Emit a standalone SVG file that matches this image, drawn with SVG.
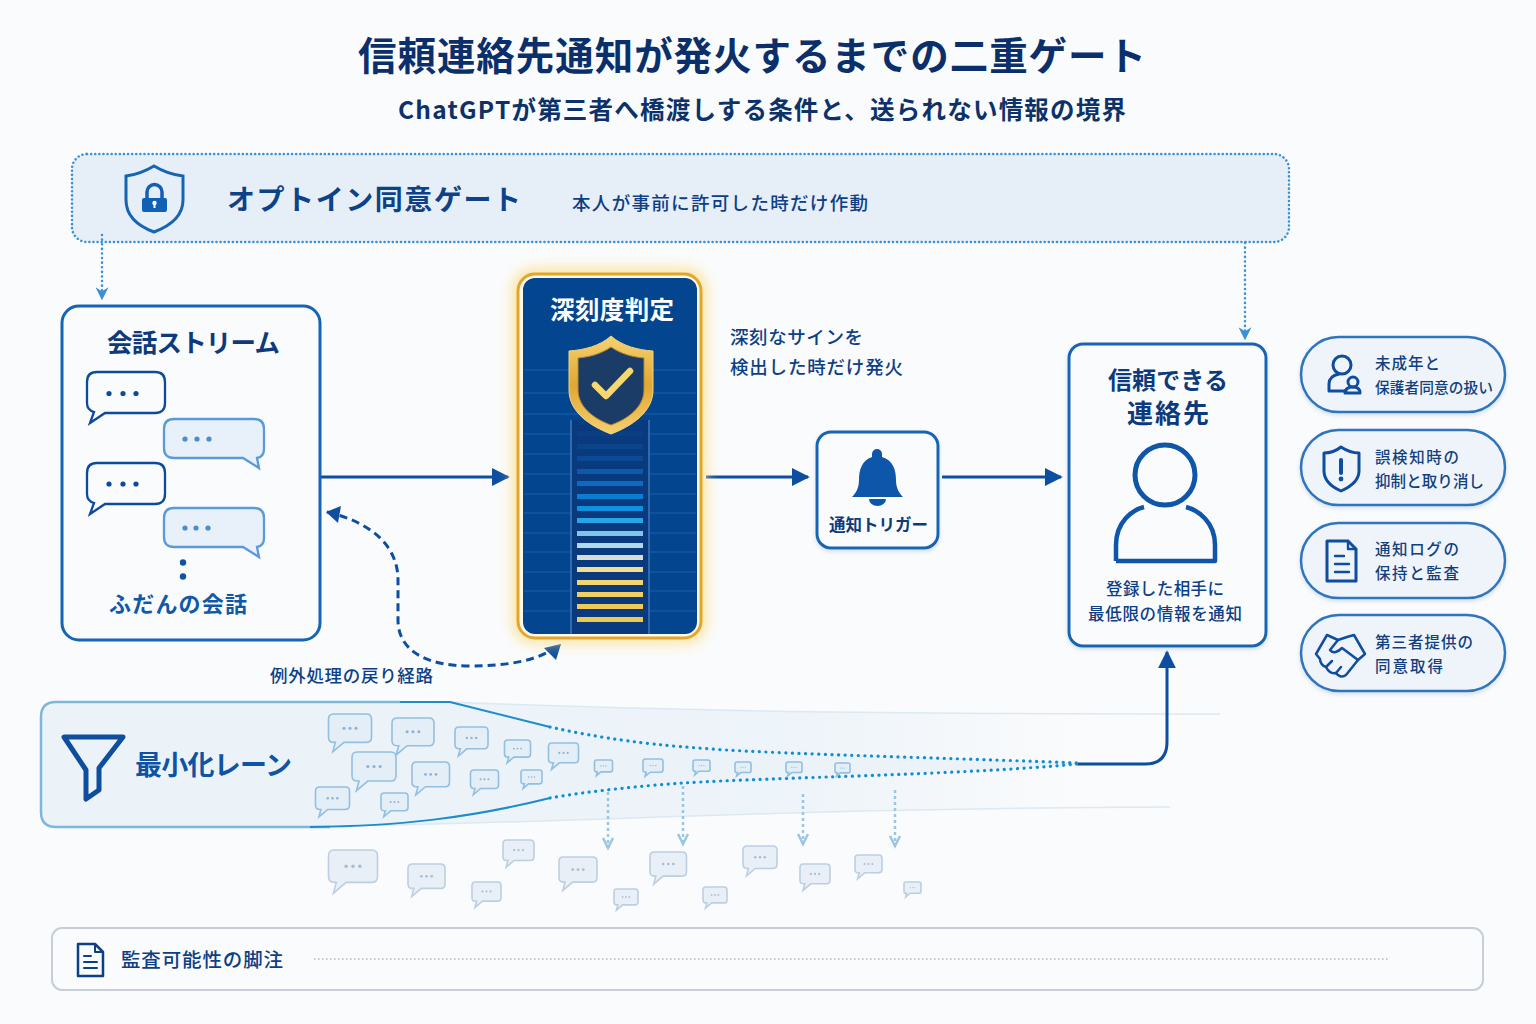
<svg xmlns="http://www.w3.org/2000/svg" xmlns:xlink="http://www.w3.org/1999/xlink" width="1536" height="1024" viewBox="0 0 1536 1024">
<style>
text{font-family:"Noto Sans CJK JP","Noto Sans",sans-serif;fill:#0d3f86;font-weight:500}
.t{font-weight:700;fill:#0c3a7c}
.card{fill:#fafbfd;stroke:#1565b4;stroke-width:3}
.pill{fill:#eff4fa;stroke:#2f74bd;stroke-width:2.5;filter:url(#soft)}
.pt{font-size:15.5px;fill:#123f80}
.ic{fill:none;stroke:#0f4d9e;stroke-width:3;stroke-linejoin:round;stroke-linecap:round}
.main{fill:none;stroke:#0d4ea0;stroke-width:3}
.dot{fill:none;stroke:#3b90d6;stroke-width:2.5;stroke-dasharray:.1 4.5;stroke-linecap:round}
.fun{fill:none;stroke:#0f8fd0;stroke-width:3.2;stroke-dasharray:.1 6.500;stroke-linecap:round}
.drop{fill:none;stroke:#9cc6e0;stroke-width:2.5;stroke-dasharray:3 3}
.chev{fill:none;stroke:#9cc6e0;stroke-width:2.5}
.bb{fill:#e3eef7;stroke:#94bfe0;--d:#8db2d6}
.bl{fill:#e9eff7;stroke:#bccfe2;--d:#a8bcd2}
.dd{fill:var(--d);stroke:none}
.bar{height:5px;x:577px;width:66px}
.grid{stroke:#1a5fae;stroke-width:1.2}
</style>
<defs>
<filter id="soft" x="-10%" y="-10%" width="120%" height="125%"><feDropShadow dx="0" dy="2" stdDeviation="2" flood-color="#9dbbdc" flood-opacity=".45"/></filter>
<filter id="glow" x="-20%" y="-20%" width="140%" height="140%"><feGaussianBlur stdDeviation="7"/></filter>
<linearGradient id="gold" x1="0" y1="0" x2="0" y2="1"><stop offset="0" stop-color="#f6d272"/><stop offset=".5" stop-color="#e0a732"/><stop offset="1" stop-color="#f5d070"/></linearGradient>
<linearGradient id="band" gradientUnits="userSpaceOnUse" x1="300" y1="0" x2="1220" y2="0"><stop offset="0" stop-color="#ebf3f9"/><stop offset=".55" stop-color="#eef4f9"/><stop offset=".85" stop-color="#fafbfc"/></linearGradient>
<marker id="ah" viewBox="0 0 10 10" refX="9" refY="5" markerWidth="6" markerHeight="6" orient="auto"><path d="M0,0L10,5L0,10Z" fill="#0d4ea0"/></marker>
<marker id="ad" viewBox="0 0 10 10" refX="9" refY="5" markerWidth="13" markerHeight="13" markerUnits="userSpaceOnUse" orient="auto"><path d="M0,0L10,5L0,10L3,5Z" fill="#3b90d6"/></marker>
<g id="b"><path vector-effect="non-scaling-stroke" stroke-width="1.600" d="M12,0H88Q100,0 100,12V54Q100,66 88,66H36L10,88L16,66H12Q0,66 0,54V12Q0,0 12,0Z"/><circle class="dd" cx="36" cy="33" r="3.600"/><circle class="dd" cx="50" cy="33" r="3.600"/><circle class="dd" cx="64" cy="33" r="3.600"/></g>
</defs>
<rect width="1536" height="1024" fill="#fafbfc"/>
<g id="title">
<text x="358" y="70" class="t" font-size="38.500" textLength="788" style="fill:#0b2f6b">信頼連絡先通知が発火するまでの二重ゲート</text>
<text x="398" y="119" font-size="24.500" textLength="728" style="fill:#0d3269;font-weight:700">ChatGPTが第三者へ橋渡しする条件と、送られない情報の境界</text>
</g>
<g id="gate">
<rect x="72" y="154" width="1217" height="88" rx="15" fill="#e6eef7" stroke="#3b90d6" stroke-width="2.500" stroke-dasharray=".1 4" stroke-linecap="round"/>
<path d="M154,166C164,172 174,175 183,176V200C183,216 170,226 154,232C138,226 126,216 126,200V176C135,175 144,172 154,166Z" fill="none" stroke="#1565b4" stroke-width="3"/>
<rect x="142" y="198" width="25" height="14" rx="2" fill="#1060b4"/>
<path d="M147,198V192a7.500,7.500 0 0 1 15,0V198" fill="none" stroke="#1060b4" stroke-width="3.500"/>
<circle cx="154.500" cy="203" r="2.200" fill="#fff"/><rect x="153.500" y="203" width="2" height="5" fill="#fff"/>
<text x="227" y="210" font-size="28" class="t" textLength="294" style="fill:#0d4288">オプトイン同意ゲート</text>
<text x="572" y="210" font-size="18.500" textLength="296">本人が事前に許可した時だけ作動</text>
</g>
<g id="lane">
<path d="M450,702C700,712 900,714 1220,714L1170,807C800,808 600,822 300,827Z" fill="url(#band)"/>
<path d="M450,702C700,712 900,714 1220,714M300,827C600,822 800,808 1170,807" fill="none" stroke="#dce9f3" stroke-width="1.500"/>
<path d="M56,702H450L550,727C650,746 900,757 1078,763V765C900,775 650,785 550,798C470,818 400,826 330,827H56Q41,827 41,812V717Q41,702 56,702Z" fill="#ebf3f9"/>
<path d="M330,827H56Q41,827 41,812V717Q41,702 56,702H400" fill="none" stroke="#7eb8d8" stroke-width="2.500"/>
<path d="M400,702H450L550,727M550,798C470,818 400,826 310,827" fill="none" stroke="#1c8ccc" stroke-width="2"/>
<path d="M64,737H123L99,768V790L86,799V770Z" fill="none" stroke="#0f4d9e" stroke-width="5" stroke-linejoin="round"/>
<text x="135" y="775" font-size="27" class="t" textLength="157" style="fill:#0f53a5">最小化レーン</text>
</g>
<g id="connectors">
<path class="dot" d="M102,235V299" marker-end="url(#ad)"/>
<path class="dot" d="M1245,243V339" marker-end="url(#ad)"/>
<path class="main" d="M320,477H508" marker-end="url(#ah)"/>
<path class="main" d="M706,477H808" marker-end="url(#ah)"/>
<path class="main" d="M942,477H1061" marker-end="url(#ah)"/>
<path d="M327,512C370,522 398,545 398,580V620C398,650 425,666 470,666C510,666 540,660 559,645" fill="none" stroke="#0d4ea0" stroke-width="3" stroke-dasharray="8 5"/>
<path d="M326,512L341,506L338,523Z" fill="#0d4ea0"/>
<path d="M561,644L544,648L556,660Z" fill="#0d4ea0"/>
<path class="fun" d="M550,727C600,738 650,746 744,751C850,756 980,759 1078,763"/>
<path class="fun" d="M550,798C590,791 640,786 683,783C780,777 960,775 1078,764"/>
<path class="main" d="M1078,764H1145Q1167,764 1167,742V652" marker-end="url(#ah)"/>
<path class="drop" d="M608,792V848"/><path class="chev" d="M603,838L608,848L613,838"/>
<path class="drop" d="M683,786V844"/><path class="chev" d="M678,834L683,844L688,834"/>
<path class="drop" d="M803,794V844"/><path class="chev" d="M798,834L803,844L808,834"/>
<path class="drop" d="M895,790V846"/><path class="chev" d="M890,836L895,846L900,836"/>
</g>
<g id="stream">
<rect class="card" x="62" y="306" width="258" height="334" rx="17"/>
<text x="107" y="352" class="t" font-size="25.500" textLength="173">会話ストリーム</text>
<g fill="#f9fbfd" stroke="#0d4a9c" stroke-width="2.300">
<path d="M97,372H155Q165,372 165,382V403Q165,413 155,413H105L90,423L94,412Q87,410 87,403V382Q87,372 97,372Z"/>
<path d="M97,463H155Q165,463 165,473V494Q165,504 155,504H105L90,514L94,503Q87,501 87,494V473Q87,463 97,463Z"/>
</g>
<g fill="#e8f0f9" stroke="#5a9ad8" stroke-width="2.300">
<path d="M174,419H254Q264,419 264,429V449Q264,457 257,458L259,468L243,458H174Q164,458 164,448V429Q164,419 174,419Z"/>
<path d="M174,508H254Q264,508 264,518V538Q264,546 257,547L259,557L243,547H174Q164,547 164,537V518Q164,508 174,508Z"/>
</g>
<g fill="#0d4a9c"><circle cx="109" cy="393.500" r="2.600"/><circle cx="123" cy="393.500" r="2.600"/><circle cx="136" cy="393.500" r="2.600"/><circle cx="109" cy="484" r="2.600"/><circle cx="123" cy="484" r="2.600"/><circle cx="136" cy="484" r="2.600"/></g>
<g fill="#4a8ccd"><circle cx="185" cy="439" r="2.600"/><circle cx="197" cy="439" r="2.600"/><circle cx="209" cy="439" r="2.600"/><circle cx="185" cy="528" r="2.600"/><circle cx="196" cy="528" r="2.600"/><circle cx="208" cy="528" r="2.600"/></g>
<circle cx="183" cy="562.500" r="3.200" fill="#0f53a5"/><circle cx="183" cy="576.500" r="3.200" fill="#0f53a5"/>
<text x="109" y="612" font-size="22" textLength="138" style="fill:#1058a8;font-weight:700">ふだんの会話</text>
</g>
<g id="severity">
<rect x="513" y="269" width="193" height="374" rx="20" fill="#fbdc80" opacity=".8" filter="url(#glow)"/>
<rect x="518" y="274" width="183" height="364" rx="17" fill="#fdf8ea" stroke="#e3a52c" stroke-width="3"/>
<rect x="523" y="278" width="174" height="356" rx="12" fill="#03458f"/>
<g class="grid"><path d="M524,370H696M524,393H696M524,414H696M524,434H696M524,454H696M524,474H696M524,494H696M524,513H696M524,533H696M524,552H696M524,572H696M524,591H696M524,611H696"/></g>
<rect x="572" y="420" width="77" height="214" fill="#0a3a7e"/>
<path d="M571,420V634M649,420V634" stroke="#3c79b8" stroke-width="1.500"/>
<rect class="bar" y="420" fill="#0a3c80"/><rect class="bar" y="431" fill="#0a3f84"/><rect class="bar" y="444" fill="#0b4488"/><rect class="bar" y="456" fill="#0b4a94"/>
<rect class="bar" y="469" fill="#0c5aa8"/><rect class="bar" y="481" fill="#0c6bc0"/><rect class="bar" y="494" fill="#0c7ed2"/><rect class="bar" y="506" fill="#1290e0"/><rect class="bar" y="518" fill="#2aa4e8"/><rect class="bar" y="531" fill="#82c4e8"/><rect class="bar" y="543" fill="#b0d8ea"/><rect class="bar" y="555" fill="#d8dcd8"/><rect class="bar" y="567" fill="#f4dc90"/><rect class="bar" y="580" fill="#f2d470"/><rect class="bar" y="592" fill="#f1cf60"/><rect class="bar" y="604" fill="#efca58"/><rect class="bar" y="617" fill="#efc850"/>
<text x="550" y="319" font-size="24.500" class="t" textLength="124" style="fill:#fff">深刻度判定</text>
<path d="M611,336C622,346 638,350 653,351V390C653,412 632,426 611,434C590,426 569,412 569,390V351C584,350 600,346 611,336Z" fill="url(#gold)" stroke="#f4d480"/>
<path d="M611,347C621,354 633,357 644,358V390C644,407 628,419 611,425C594,419 578,407 578,390V358C589,357 601,354 611,347Z" fill="#1c3c68" stroke="#b98a2c"/>
<path d="M595,385L606,396L630,371" fill="none" stroke="#f6d770" stroke-width="6.500" stroke-linecap="round" stroke-linejoin="round"/>
</g>
<g id="side-label">
<text x="730" y="344" font-size="18.500" textLength="133">深刻なサインを</text>
<text x="730" y="374" font-size="18.500" textLength="173">検出した時だけ発火</text>
<text x="270" y="682" font-size="17.500" textLength="163">例外処理の戻り経路</text>
</g>
<g id="trigger">
<rect class="card" x="817" y="432" width="121" height="116" rx="14" filter="url(#soft)"/>
<path d="M877,449a5,5 0 0 1 5,5V457C893,460 896,470 896,480C896,488 899,493 903,497H852C856,493 859,488 859,480C859,470 862,460 872,457V454a5,5 0 0 1 5,-5Z" fill="#0d56aa"/>
<path d="M869,499a8.500,7 0 0 0 17,0Z" fill="#0d56aa"/>
<text x="829" y="531" font-size="16.500" textLength="99" style="fill:#0d3a7a;font-weight:700">通知トリガー</text>
</g>
<g id="contact">
<rect class="card" x="1069" y="344" width="197" height="302" rx="14" filter="url(#soft)"/>
<text x="1108" y="389" class="t" font-size="24" textLength="120">信頼できる</text>
<text x="1127" y="423" class="t" font-size="26" textLength="82">連絡先</text>
<circle cx="1165" cy="475" r="30" fill="none" stroke="#0f56a8" stroke-width="5"/>
<path d="M1116,561V545C1116,522 1132,510 1144,507M1186,507C1198,510 1215,522 1215,545V561H1116" fill="none" stroke="#0f56a8" stroke-width="4.500" stroke-linejoin="round"/>
<text x="1106" y="595" font-size="16.500" textLength="118">登録した相手に</text>
<text x="1088" y="620" font-size="16.500" textLength="154">最低限の情報を通知</text>
</g>
<g id="lane-bubbles" class="bb">
<use href="#b" transform="translate(328.500,714) scale(.43)"/><use href="#b" transform="translate(392,718) scale(.42)"/><use href="#b" transform="translate(455,727) scale(.33)"/><use href="#b" transform="translate(504.500,740) scale(.26)"/><use href="#b" transform="translate(548.500,743) scale(.30)"/><use href="#b" transform="translate(352,752) scale(.44)"/><use href="#b" transform="translate(412,762) scale(.375)"/><use href="#b" transform="translate(470.500,770) scale(.28)"/><use href="#b" transform="translate(521,770) scale(.21)"/><use href="#b" transform="translate(315.500,787) scale(.34)"/><use href="#b" transform="translate(381,793) scale(.27)"/><use href="#b" transform="translate(594.500,760) scale(.18)"/><use href="#b" transform="translate(643,759) scale(.20)"/><use href="#b" transform="translate(693,760) scale(.17)"/><use href="#b" transform="translate(735,762) scale(.16)"/><use href="#b" transform="translate(786,762) scale(.16)"/><use href="#b" transform="translate(835,763) scale(.15)"/>
</g>
<g id="dropped-bubbles" class="bl">
<use href="#b" transform="translate(328.500,850) scale(.49)"/><use href="#b" transform="translate(408,864) scale(.37)"/><use href="#b" transform="translate(503,840) scale(.31)"/><use href="#b" transform="translate(472,882) scale(.29)"/><use href="#b" transform="translate(559,857) scale(.38)"/><use href="#b" transform="translate(614,889) scale(.24)"/><use href="#b" transform="translate(650,852) scale(.365)"/><use href="#b" transform="translate(703,887) scale(.24)"/><use href="#b" transform="translate(743,846) scale(.34)"/><use href="#b" transform="translate(800,864) scale(.30)"/><use href="#b" transform="translate(855,855) scale(.27)"/><use href="#b" transform="translate(904,882) scale(.17)"/>
</g>
<g id="pill-minor">
<rect class="pill" x="1301" y="337" width="204" height="75" rx="37.500"/>
<circle class="ic" cx="1342" cy="365" r="9"/>
<path class="ic" d="M1329,391V384C1329,378 1334,375 1339,374M1329,391H1346"/>
<circle class="ic" cx="1353" cy="382" r="5"/><path class="ic" d="M1345,393C1345,388 1349,387 1353,387C1357,387 1360,388 1360,393Z"/>
<text class="pt" x="1375" y="369" textLength="65">未成年と</text><text class="pt" x="1375" y="393" textLength="118" style="font-size:14.700px">保護者同意の扱い</text>
</g>
<g id="pill-false">
<rect class="pill" x="1301" y="430" width="204" height="75" rx="37.500"/>
<path class="ic" d="M1341,447C1347,451 1352,453 1359,453V471C1359,481 1350,487 1341,491C1332,487 1324,481 1324,471V453C1330,453 1336,451 1341,447Z"/>
<path d="M1341,460V473" stroke="#0f4d9e" stroke-width="4" stroke-linecap="round"/><circle cx="1341" cy="479" r="2.400" fill="#0f4d9e"/>
<text class="pt" x="1375" y="463" textLength="84">誤検知時の</text><text class="pt" x="1375" y="487" textLength="109">抑制と取り消し</text>
</g>
<g id="pill-log">
<rect class="pill" x="1301" y="523" width="204" height="75" rx="37.500"/>
<path class="ic" d="M1327,541H1348L1356,549V581H1327Z"/>
<path class="ic" d="M1348,541V549H1356M1335,556H1344M1335,564H1349M1335,572H1349" style="stroke-width:2.400"/>
<text class="pt" x="1375" y="555" textLength="84">通知ログの</text><text class="pt" x="1375" y="579" textLength="84">保持と監査</text>
</g>
<g id="pill-third">
<rect class="pill" x="1301" y="615" width="204" height="76" rx="38"/>
<path class="ic" d="M1316,654L1327,635L1338,640L1347,637L1354,635L1365,654L1358,660L1346,675C1342,678 1338,676 1336,673C1331,674 1328,671 1326,667C1322,666 1320,662 1320,659Z" style="stroke-width:2.500"/>
<path class="ic" d="M1338,640L1330,650C1333,654 1338,652 1342,648L1358,660M1336,673L1341,667M1326,667L1332,661" style="stroke-width:2.500"/>
<text class="pt" x="1375" y="648" textLength="98">第三者提供の</text><text class="pt" x="1375" y="672" textLength="68">同意取得</text>
</g>
<g id="footnote">
<rect x="52" y="928" width="1431" height="62" rx="10" fill="#fafbfc" stroke="#c7ced8" stroke-width="2"/>
<path class="ic" d="M78,944H95L103,952V976H78Z" style="stroke:#0d3f86;stroke-width:2.500"/>
<path class="ic" d="M95,944V952H103M84,956H91M84,962H97M84,968H97" style="stroke:#0d3f86;stroke-width:2"/>
<text x="121" y="967" font-size="19.500" textLength="162">監査可能性の脚注</text>
<path d="M314,959H1388" stroke="#aeb8c4" stroke-width="1.500" stroke-dasharray="1.500 2.500"/>
</g>
</svg>
